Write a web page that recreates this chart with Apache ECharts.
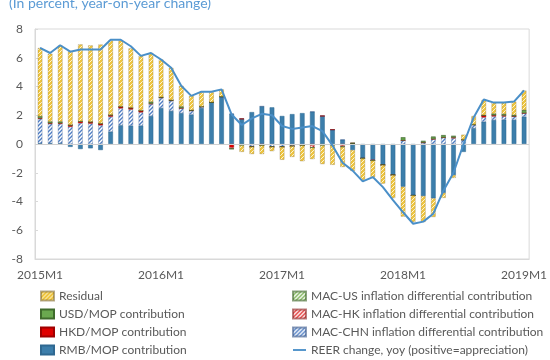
<!DOCTYPE html>
<html>
<head>
<meta charset="utf-8">
<script src="https://cdn.jsdelivr.net/npm/echarts@6/dist/echarts.min.js"></script>
<style>
  html, body { margin: 0; padding: 0; background: #ffffff; }
  #chart { width: 550px; height: 360px; }
</style>
</head>
<body>
<div id="chart"></div>
<script>
// Monthly categories, 2015M1 .. 2019M1
const years = [2015, 2016, 2017, 2018, 2019];
const months = [];
years.forEach(function (y) {
  const last = (y === 2019) ? 1 : 12;
  for (let m = 1; m <= last; m++) months.push(y + 'M' + m);
});

// Y axis range (percent)
const yMin = -8, yMax = 8, yStep = 2;

// Contributions to the REER change, percentage points
const rmbMop = [0.05, 0.05, 0.05, -0.2, -0.35, -0.3, -0.42, 0.86, 1.3, 1.28,
  1.28, 1.95, 2.5, 2.3, 2.15, 2.05, 2.5, 2.9, 3.3, 2.1,
  1.75, 2.22, 2.62, 2.55, 1.95, 2.08, 2.15, 2.25, 1.95, 1.0,
  0.3, -0.42, -1.0, -1.1, -1.46, -2.16, -2.97, -3.58, -3.62, -3.78,
  -3.4, -2.16, -0.55, 1.1, 1.55, 1.67, 1.7, 1.68, 1.9];

const macChn = [1.7, 1.35, 1.35, 1.2, 1.45, 1.42, 1.3, 1.04, 1.18, 1.12,
  0.92, 0.83, 0.7, 0.7, 0.35, 0.25, 0.1, 0, 0, 0,
  0, -0.15, 0, -0.2, -0.2, -0.15, -0.1, 0, 0, 0,
  0, 0.05, 0, 0, 0, 0, 0.25, 0, 0.1, 0.35,
  0.45, 0.4, 0.3, 0.25, 0.3, 0.25, 0.22, 0.25, 0.25];

const hkdMop = [0.05, 0.05, 0.05, 0.12, 0.12, 0.12, 0.12, 0.12, 0.12, 0.12,
  0.12, 0.03, 0.05, 0.05, 0, 0.05, 0, 0, 0, -0.25,
  0, -0.05, -0.1, 0, 0, 0, 0, -0.1, 0, 0,
  -0.1, 0, 0, -0.05, 0, 0, 0, 0, 0, 0,
  0, 0.05, 0, 0, 0.15, 0.08, 0.06, 0, 0];

const macHk = [0, 0, 0, 0, 0, 0, 0, 0, 0, 0,
  0, 0, 0, 0, 0, 0, 0, 0, 0, -0.08,
  0, 0, 0, 0, 0, 0, 0, -0.15, 0, 0,
  -0.1, 0, 0, 0, 0, 0, 0, 0, 0, 0,
  0, 0, 0, 0, 0, 0, 0, 0, 0];

const usdMop = [0.12, 0.1, 0.1, 0, 0, 0, 0, 0, 0, 0,
  0, 0.12, 0, 0, 0.1, 0, 0, 0, 0, 0,
  -0.1, 0, 0, 0, 0, 0, 0, 0, -0.1, -0.1,
  0, 0, 0, 0, 0, 0, 0.2, 0, 0.1, 0.15,
  0.15, 0.1, 0, 0, 0, 0.1, 0.1, 0.08, 0.2];

const macUs = [0, 0, 0, 0, 0, 0, 0, 0, 0, 0,
  0, 0, 0, 0, 0, 0, 0, 0, 0, 0,
  0, 0, 0, 0, 0, 0, 0, 0, 0, 0,
  0, 0, 0, 0, 0, 0, 0, 0, 0, 0,
  0, 0, 0, 0, 0, 0, 0, 0, 0];

const residual = [4.76, 4.73, 5.3, 5.14, 5.36, 5.32, 5.5, 5.18, 4.6, 4.13,
  3.81, 3.4, 2.63, 2.25, 1.45, 1.0, 1.0, 0.7, 0.5, 0,
  -0.45, -0.5, -0.6, -0.3, -0.9, -0.75, -1.1, -0.8, -1.3, -1.35,
  -1.4, -1.45, -1.5, -1.15, -1.3, -1.6, -2.08, -1.85, -1.8, -1.3,
  -0.35, -0.2, 0.35, 0.6, 1.05, 0.78, 0.8, 0.94, 1.37];

// REER change, year on year
const reer = [6.68, 6.33, 6.87, 6.42, 6.58, 6.58, 6.58, 7.25, 7.25, 6.8,
  6.13, 6.33, 5.88, 5.3, 4.05, 3.35, 3.64, 3.64, 3.8, 2.05,
  1.32, 1.78, 2.1, 2.0, 1.25, 1.05, 1.15, 1.25, 0.9, -0.1,
  -1.3, -1.85, -2.6, -2.3, -3.0, -3.9, -4.75, -5.55, -5.4, -4.85,
  -3.25, -2.0, 0.0, 1.85, 3.1, 2.88, 2.88, 2.95, 3.72];

// Diagonal hatch fill used by the patterned series
function hatch(bg, fg, size, lw) {
  const c = document.createElement('canvas');
  c.width = size; c.height = size;
  const g = c.getContext('2d');
  g.fillStyle = bg;
  g.fillRect(0, 0, size, size);
  g.strokeStyle = fg;
  g.lineWidth = lw;
  g.beginPath();
  g.moveTo(-1, size + 1); g.lineTo(size + 1, -1);
  g.moveTo(-1, 1); g.lineTo(1, -1);
  g.moveTo(size - 1, size + 1); g.lineTo(size + 1, size - 1);
  g.stroke();
  return { image: c, repeat: 'repeat' };
}

const FONT = 'Lato';
const TXT = '#595959';

const fills = {
  residual: hatch('#eec540', '#fff6d2', 4, 1.0),
  macUs: hatch('#ffffff', '#76b04e', 4, 1.3),
  macHk: hatch('#ffffff', '#e02a2a', 4, 1.3),
  macChn: hatch('#ffffff', '#4f7ec4', 4, 1.4)
};

function barSeries(name, data, color, border) {
  return {
    name: name,
    type: 'bar',
    stack: 'total',
    data: data,
    barWidth: '46%',
    itemStyle: { color: color, borderColor: border, borderWidth: 0.5 },
    emphasis: { disabled: true }
  };
}

const legendText = { fontSize: 12, color: TXT, fontFamily: FONT, lineHeight: 11 };

const chart = echarts.init(document.getElementById('chart'), null, { renderer: 'canvas' });

chart.setOption({
  animation: false,
  backgroundColor: '#ffffff',
  textStyle: { fontFamily: FONT },
  graphic: [{
    type: 'text', left: 9, top: -4,
    style: { text: '(In percent, year-on-year change)', fill: '#5b9bd5', font: '14px ' + FONT }
  }],
  grid: {
    left: 35, right: 15, top: 29, bottom: 101,
    show: true, borderColor: '#d9d9d9', borderWidth: 1
  },
  legend: [{
    orient: 'vertical', left: 40, top: 290, bottom: 0, padding: 0,
    itemWidth: 13, itemHeight: 9, itemGap: 6,
    textStyle: legendText,
    data: [
      { name: 'Residual', icon: 'rect' },
      { name: 'USD/MOP contribution', icon: 'rect' },
      { name: 'HKD/MOP contribution', icon: 'rect' },
      { name: 'RMB/MOP contribution', icon: 'rect' }
    ]
  }, {
    orient: 'vertical', left: 292, top: 290, bottom: 0, padding: 0,
    itemWidth: 13, itemHeight: 9, itemGap: 6,
    textStyle: legendText,
    data: [
      { name: 'MAC-US inflation differential contribution', icon: 'rect' },
      { name: 'MAC-HK inflation differential contribution', icon: 'rect' },
      { name: 'MAC-CHN inflation differential contribution', icon: 'rect' },
      { name: 'REER change, yoy (positive=appreciation)', icon: 'path://M0,4 L14,4 L14,6 L0,6 Z' }
    ]
  }],
  xAxis: {
    type: 'category',
    data: months,
    boundaryGap: true,
    axisLine: { onZero: false, lineStyle: { color: '#d9d9d9' } },
    axisTick: { show: false },
    axisLabel: { interval: 11, color: TXT, fontSize: 12, fontFamily: FONT, margin: 10 },
    splitLine: { show: false }
  },
  yAxis: {
    type: 'value',
    min: yMin, max: yMax, interval: yStep,
    axisLine: { show: true, lineStyle: { color: '#d9d9d9' } },
    axisTick: { show: true, inside: true, length: 3, lineStyle: { color: '#d9d9d9' } },
    axisLabel: { color: TXT, fontSize: 12, fontFamily: FONT, margin: 12 },
    splitLine: { show: false }
  },
  series: [
    Object.assign(barSeries('RMB/MOP contribution', rmbMop, '#3c7eab', '#2f6891'), {
      markLine: {
        silent: true, symbol: 'none', label: { show: false },
        lineStyle: { color: '#d0d0d0', width: 1, type: 'solid' },
        data: [{ yAxis: 0 }]
      }
    }),
    barSeries('MAC-CHN inflation differential contribution', macChn, fills.macChn, 'rgba(60,90,140,0.6)'),
    barSeries('HKD/MOP contribution', hkdMop, '#e00000', '#a00000'),
    barSeries('MAC-HK inflation differential contribution', macHk, fills.macHk, 'rgba(140,40,40,0.6)'),
    barSeries('USD/MOP contribution', usdMop, '#6aa84f', '#3f6b2c'),
    barSeries('MAC-US inflation differential contribution', macUs, fills.macUs, 'rgba(60,100,40,0.6)'),
    barSeries('Residual', residual, fills.residual, 'rgba(120,100,50,0.55)'),
    {
      name: 'REER change, yoy (positive=appreciation)',
      type: 'line',
      data: reer,
      symbol: 'none',
      z: 5,
      lineStyle: { color: '#4a8fc8', width: 2 },
      itemStyle: { color: '#4a8fc8' },
      emphasis: { disabled: true }
    }
  ]
});
</script>
</body>
</html>
